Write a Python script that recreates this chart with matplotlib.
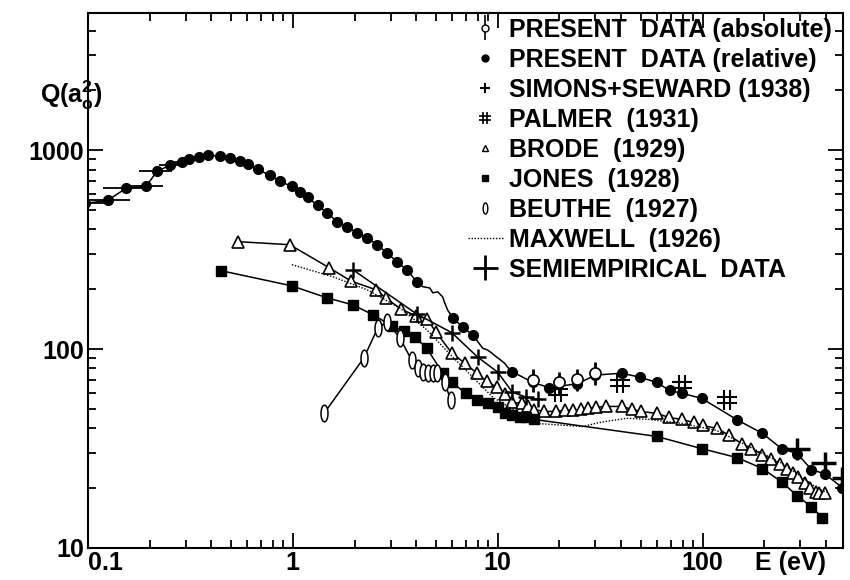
import numpy as np
import matplotlib
matplotlib.use('Agg')
import matplotlib.pyplot as plt
from matplotlib.path import Path
from matplotlib.lines import Line2D

plt.rcParams['font.family'] = ['Liberation Sans', 'DejaVu Sans']
plt.rcParams['font.weight'] = 'bold'
plt.rcParams['axes.labelweight'] = 'bold'
plt.rcParams['mathtext.fontset'] = 'custom'
plt.rcParams['mathtext.rm'] = 'Liberation Sans:bold'

# present data (relative), markers
rel_E = [0.097, 0.125, 0.153, 0.192, 0.217, 0.251, 0.288, 0.311, 0.348, 0.385,
         0.44, 0.493, 0.551, 0.603, 0.675, 0.772, 0.865, 0.989, 1.08, 1.18,
         1.32, 1.47, 1.64, 1.83, 2.05, 2.30, 2.57, 2.88, 3.22, 3.60, 4.03,
         6.03, 6.74, 7.55, 11.8, 14.8, 17.9, 24.5, 30, 40.3, 49.3, 59.7, 69,
         79, 98.9, 148, 196, 243, 290, 340, 394, 482]
rel_Q = [540, 560, 643, 658, 783, 840, 870, 901, 922, 944,
         933, 911, 880, 849, 801, 748, 697, 658, 614, 579,
         528, 486, 438, 413, 385, 364, 335, 305, 275, 251, 218,
         144, 129, 118, 77, 68, 64, 67, 74, 75.7, 72.3, 68, 62,
         60, 56.6, 44, 37.7, 31.6, 29.8, 24.8, 23.6, 20.1]
rel_dE = [0.03, 0.035, 0.035, 0.04, 0.04, 0.03, 0.03]
# unmarked wiggly parts of the relative curve
wig_E = [4.31, 4.66, 4.82, 5.10, 5.39, 5.51, 5.70,
         8.45, 8.94, 9.35, 9.89, 10.2, 10.8, 11.2]
wig_Q = [206, 203, 192, 194, 183, 171, 157,
         101, 98.9, 95.5, 91.2, 89, 85, 81]

# present data (absolute)
abs_E = [14.8, 20, 24.5, 29.7]
abs_Q = [70, 68, 70.5, 75.7]
abs_err = [9, 9, 9, 10]

# Simons + Seward (1938)
sim_E = [1.96, 4.03, 5.97, 7.98, 10.0, 11.8, 13.8, 15.8]
sim_Q = [251, 150, 121, 91.2, 76.6, 60.7, 57.3, 55.9]

# Palmer (1931)
pal_E = [19.6, 39.4, 79, 132]
pal_Q = [60.7, 67.3, 65.8, 55.3]

# Brode (1929)
bro_E = [0.54, 0.966, 1.51, 1.92, 2.54, 2.84, 3.37, 3.98, 4.51, 4.99, 5.97,
         6.91, 7.91, 8.84, 9.89, 10.8, 11.8, 13.1, 14.0, 15.1, 16.9, 19.2,
         21.2, 23.2, 25.4, 27.5, 30.1, 33.6, 40.3, 45.1, 49.9, 59.7, 68.3,
         79, 90.4, 100, 118, 135, 155, 173, 196, 217, 238, 257, 275, 294,
         315, 333, 356, 372, 394]
bro_Q = [347, 335, 256, 220, 199, 181, 159, 147, 142, 122, 95.5,
         85, 75.7, 68.9, 64.3, 59.3, 54, 53.4, 51.5, 49.7, 48.6, 48.6,
         49.2, 49.2, 49.8, 50.4, 50.9, 51.5, 51.5, 49.8, 48.6, 47.5, 45.4,
         44.3, 42.8, 41.3, 39.9, 36.8, 33.5, 31.6, 29.5, 28.1, 26.5, 25.1,
         23.9, 22.8, 21.3, 20.1, 19.2, 19.0, 19.0]

# Jones (1928)
jon_E = [0.446, 0.989, 1.47, 1.96, 2.46, 3.04, 3.48, 3.94, 4.51, 5.39, 5.97,
         6.98, 7.91, 8.94, 10.0, 10.8, 11.8, 12.8, 13.8, 15.1, 59.7, 98.9,
         147, 196, 243, 290, 340, 385]
jon_Q = [248, 208, 181, 167, 149, 131, 123, 115, 101, 75.7, 68.1,
         60, 55.3, 53.4, 50.9, 47.5, 46.4, 45.4, 45.4, 44.3, 36.4, 31.6,
         28.5, 25.1, 21.5, 18.3, 16.1, 14.2]

# Beuthe (1927)
beu_E = [1.42, 2.22, 2.60, 2.88, 3.33, 3.80, 4.07, 4.31, 4.56, 4.82, 5.04,
         5.51, 5.90]
beu_Q = [47.5, 90.2, 128, 137, 114, 88, 80.2, 76.6, 75.7, 75.7, 75.7,
         68.1, 55.3]

# Maxwell (1926)
max_E = [0.989, 1.57, 2.30, 3.33, 4.51, 6.03, 7.55, 9.46, 15.5, 26.0, 31.5,
         42.6, 55.1, 79.8, 117, 147, 196, 245, 308, 360, 403]
max_Q = [266, 231, 199, 161, 125, 91.2, 72.3, 57.3, 42.3, 40.8, 42.8,
         44.9, 44.3, 42.3, 39.0, 34.7, 29.9, 26.6, 22.6, 20.1, 19.0]

# semiempirical data
sem_E = [290, 394, 482]
sem_Q = [31.6, 26.9, 22.6]
sem_dE = [45, 55, 55]
sem_dQ = [4, 3.5, 3]

t = np.linspace(0, 2 * np.pi, 41)
ellipse = Path(np.column_stack([0.42 * np.cos(t), np.sin(t)]))
hashmark = Path([(-0.3, -1), (-0.3, 1), (0.3, -1), (0.3, 1),
                 (-1, -0.3), (1, -0.3), (-1, 0.3), (1, 0.3)],
                [Path.MOVETO, Path.LINETO] * 4)

fig = plt.figure(figsize=(8.5, 5.8), dpi=100)
ax = fig.add_axes([0.1035, 0.0552, 0.8883, 0.9224])
ax.set_xscale('log')
ax.set_yscale('log')

lw = 1.1
k = 'black'

# relative curve (line through markers and wiggles)
line_E = np.array(rel_E + wig_E)
line_Q = np.array(rel_Q + wig_Q)
order = np.argsort(line_E)
ax.plot(line_E[order], line_Q[order], color=k, lw=lw)
ax.plot(rel_E, rel_Q, 'o', color=k, ms=7)
ax.errorbar(rel_E[:len(rel_dE)], rel_Q[:len(rel_dE)], xerr=rel_dE,
            fmt='none', ecolor=k, elinewidth=1.3)

ax.plot(bro_E, bro_Q, color=k, lw=lw, marker='^', mfc='white', mec=k,
        ms=8, mew=1.2)
ax.plot(jon_E, jon_Q, color=k, lw=lw, marker='s', ms=7)
ax.plot(max_E, max_Q, color=k, lw=1.0, ls=(0, (1, 1.2)))
ax.plot(sim_E, sim_Q, color=k, lw=lw, marker='+', ms=11, mew=1.8)
ax.plot(beu_E, beu_Q, color=k, lw=lw, marker=ellipse, mfc='white', mec=k,
        ms=12, mew=1.1)
ax.plot(pal_E, pal_Q, ls='none', marker=hashmark, color=k, ms=15, mew=1.5)
ax.errorbar(abs_E, abs_Q, yerr=abs_err, fmt='o', mfc='white', mec=k,
            ecolor=k, ms=8, mew=1.2, elinewidth=2, capsize=0)
ax.errorbar(sem_E, sem_Q, xerr=sem_dE, yerr=sem_dQ, fmt='none', ecolor=k,
            elinewidth=2.5, capsize=0)

ax.set_xlim(0.1, 485)
ax.set_ylim(10, 4900)

ax.set_xticks([0.1, 1, 10, 100])
ax.set_xticklabels(['0.1', '1', '10', '100'])
ax.set_yticks([10, 100, 1000])
ax.set_yticklabels(['10', '100', '1000'])
ax.xaxis.set_minor_locator(matplotlib.ticker.LogLocator(subs=np.arange(2, 10)))
ax.yaxis.set_minor_locator(matplotlib.ticker.LogLocator(subs=np.arange(2, 10)))
ax.xaxis.set_minor_formatter(matplotlib.ticker.NullFormatter())
ax.yaxis.set_minor_formatter(matplotlib.ticker.NullFormatter())
ax.tick_params(which='both', direction='in', top=True, right=True,
               width=1.3, labelsize=18)
ax.tick_params(which='major', length=11)
ax.tick_params(which='minor', length=6)
ax.tick_params(axis='x', pad=2)
ax.tick_params(axis='y', pad=3)
ax.get_xticklabels()[0].set_ha('left')
for s in ax.spines.values():
    s.set_linewidth(1.5)

ax.set_xlabel('E (eV)', fontsize=18, fontweight='bold')
ax.xaxis.set_label_coords(0.93, -0.006)
fig.text(0.047, 0.835, r'Q(a$_\mathregular{o}^\mathregular{2}$)', fontsize=18,
         va='center', ha='left')

handles = [
    ax.errorbar([], [], yerr=[], fmt='o', mfc='white', mec=k, ecolor=k,
                ms=5, mew=1, elinewidth=1.2),
    Line2D([], [], ls='none', marker='o', color=k, ms=5),
    Line2D([], [], ls='none', marker='+', color=k, ms=7, mew=1.5),
    Line2D([], [], ls='none', marker=hashmark, color=k, ms=9, mew=1.2),
    Line2D([], [], ls='none', marker='^', mfc='white', mec=k, ms=5, mew=1),
    Line2D([], [], ls='none', marker='s', color=k, ms=5),
    Line2D([], [], ls='none', marker=ellipse, mfc='white', mec=k, ms=8,
           mew=1),
    Line2D([], [], color=k, lw=1.0, ls=(0, (1, 1.2))),
    ax.errorbar([], [], xerr=[], yerr=[], fmt='none', ecolor=k,
                elinewidth=2),
]
labels = ['PRESENT  DATA (absolute)', 'PRESENT  DATA (relative)',
          'SIMONS+SEWARD (1938)', 'PALMER  (1931)', 'BRODE  (1929)',
          'JONES  (1928)', 'BEUTHE  (1927)', 'MAXWELL  (1926)',
          'SEMIEMPIRICAL  DATA']
ax.legend(handles, labels, loc='upper left', bbox_to_anchor=(0.49, 1.01),
          frameon=False, fontsize=18, handlelength=1.4, handletextpad=0.25,
          labelspacing=0.24, borderaxespad=0.0)

fig.savefig('out.png', dpi=100, facecolor='white')
